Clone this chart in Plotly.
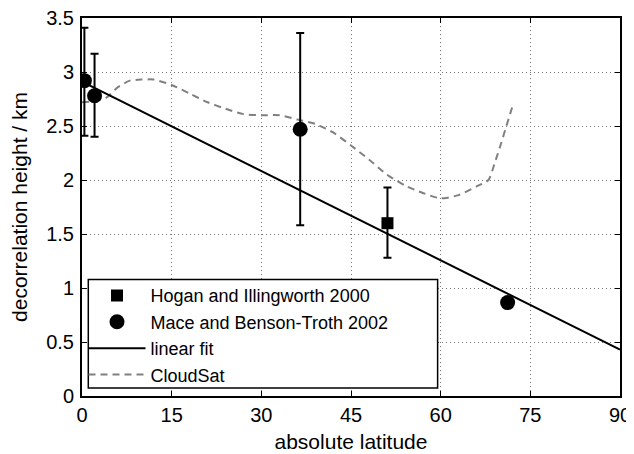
import plotly.graph_objects as go

# Hogan and Illingworth 2000
hogan_lat = [51.1]
hogan_h = [1.60]
hogan_err_plus = [0.33]
hogan_err_minus = [0.32]

# Mace and Benson-Troth 2002
mace_lat = [0.4, 2.1, 36.5, 71.2]
mace_h = [2.92, 2.78, 2.47, 0.865]
mace_err_plus = [0.49, 0.39, 0.89, 0.0]
mace_err_minus = [0.51, 0.38, 0.89, 0.0]

# linear fit
fit_lat = [0, 90]
fit_h = [2.91, 0.43]

# CloudSat
cs_lat = [0, 2, 4, 6, 8, 10, 12, 15, 18, 21, 24, 27, 30, 33, 36, 39, 42, 45,
          48, 51, 54, 57, 60, 63, 66, 68, 69, 70, 71, 72]
cs_h = [2.72, 2.73, 2.76, 2.86, 2.92, 2.93, 2.93, 2.88, 2.80, 2.72, 2.66, 2.61,
        2.60, 2.60, 2.56, 2.52, 2.44, 2.32, 2.19, 2.05, 1.95, 1.88, 1.83, 1.86,
        1.94, 2.00, 2.15, 2.32, 2.50, 2.68]

x_ticks = [0, 15, 30, 45, 60, 75, 90]
y_ticks = [0, 0.5, 1, 1.5, 2, 2.5, 3, 3.5]
y_tick_labels = ["0", "0.5", "1", "1.5", "2", "2.5", "3", "3.5"]

FONT = "Liberation Sans, Arial, Helvetica, sans-serif"

fig = go.Figure()

fig.add_trace(go.Scatter(
    x=cs_lat, y=cs_h, mode="lines", name="CloudSat", legendrank=4,
    line=dict(color="#808080", width=2, dash="7px,5px", shape="spline", smoothing=0.6),
))
fig.add_trace(go.Scatter(
    x=fit_lat, y=fit_h, mode="lines", name="linear fit", legendrank=3,
    line=dict(color="black", width=2),
))
fig.add_trace(go.Scatter(
    x=hogan_lat, y=hogan_h, mode="markers", name="Hogan and Illingworth 2000",
    legendrank=1,
    marker=dict(symbol="square", size=12, color="black"),
    error_y=dict(type="data", array=hogan_err_plus, arrayminus=hogan_err_minus,
                 color="black", thickness=2, width=4),
))
fig.add_trace(go.Scatter(
    x=mace_lat, y=mace_h, mode="markers", name="Mace and Benson-Troth 2002",
    legendrank=2,
    marker=dict(symbol="circle", size=15, color="black"),
    error_y=dict(type="data", array=mace_err_plus, arrayminus=mace_err_minus,
                 color="black", thickness=2, width=4),
))

axis_common = dict(
    automargin=False, ticklabeloverflow="allow",
    showline=True, linecolor="black", linewidth=2, mirror="ticks",
    ticks="inside", ticklen=5, tickwidth=1, tickcolor="black",
    showgrid=True, gridcolor="#777777", gridwidth=1, griddash="1px,3px",
    zeroline=False,
    tickfont=dict(family=FONT, size=20, color="black"),
)

fig.update_xaxes(
    range=[0, 90], tickvals=x_ticks, ticklabelstandoff=0,
    title=dict(text="absolute latitude", font=dict(family=FONT, size=21, color="black"), standoff=9),
    **axis_common,
)
fig.update_yaxes(
    range=[0, 3.5], tickvals=y_ticks, ticktext=y_tick_labels, ticklabelstandoff=2,
    title=dict(text="decorrelation height / km", font=dict(family=FONT, size=21, color="black"), standoff=18),
    **axis_common,
)

# legend frame (drawn as a box so its size matches the original)
fig.add_shape(
    type="rect", xref="paper", yref="paper",
    x0=0.0117, x1=0.661, y0=0.021, y1=0.308,
    line=dict(color="black", width=1.5), fillcolor="white", layer="above",
)

fig.update_layout(
    template="none",
    width=634, height=454,
    margin=dict(l=74, r=22, t=10, b=66, autoexpand=False),
    plot_bgcolor="white", paper_bgcolor="white",
    font=dict(family=FONT, size=18, color="black"),
    legend=dict(
        x=0.0028, y=0.3143, xanchor="left", yanchor="top",
        bgcolor="rgba(0,0,0,0)", borderwidth=0,
        font=dict(family=FONT, size=18, color="black"),
        itemwidth=57, tracegroupgap=0,
    ),
    showlegend=True,
)

fig.write_html("out.html")
